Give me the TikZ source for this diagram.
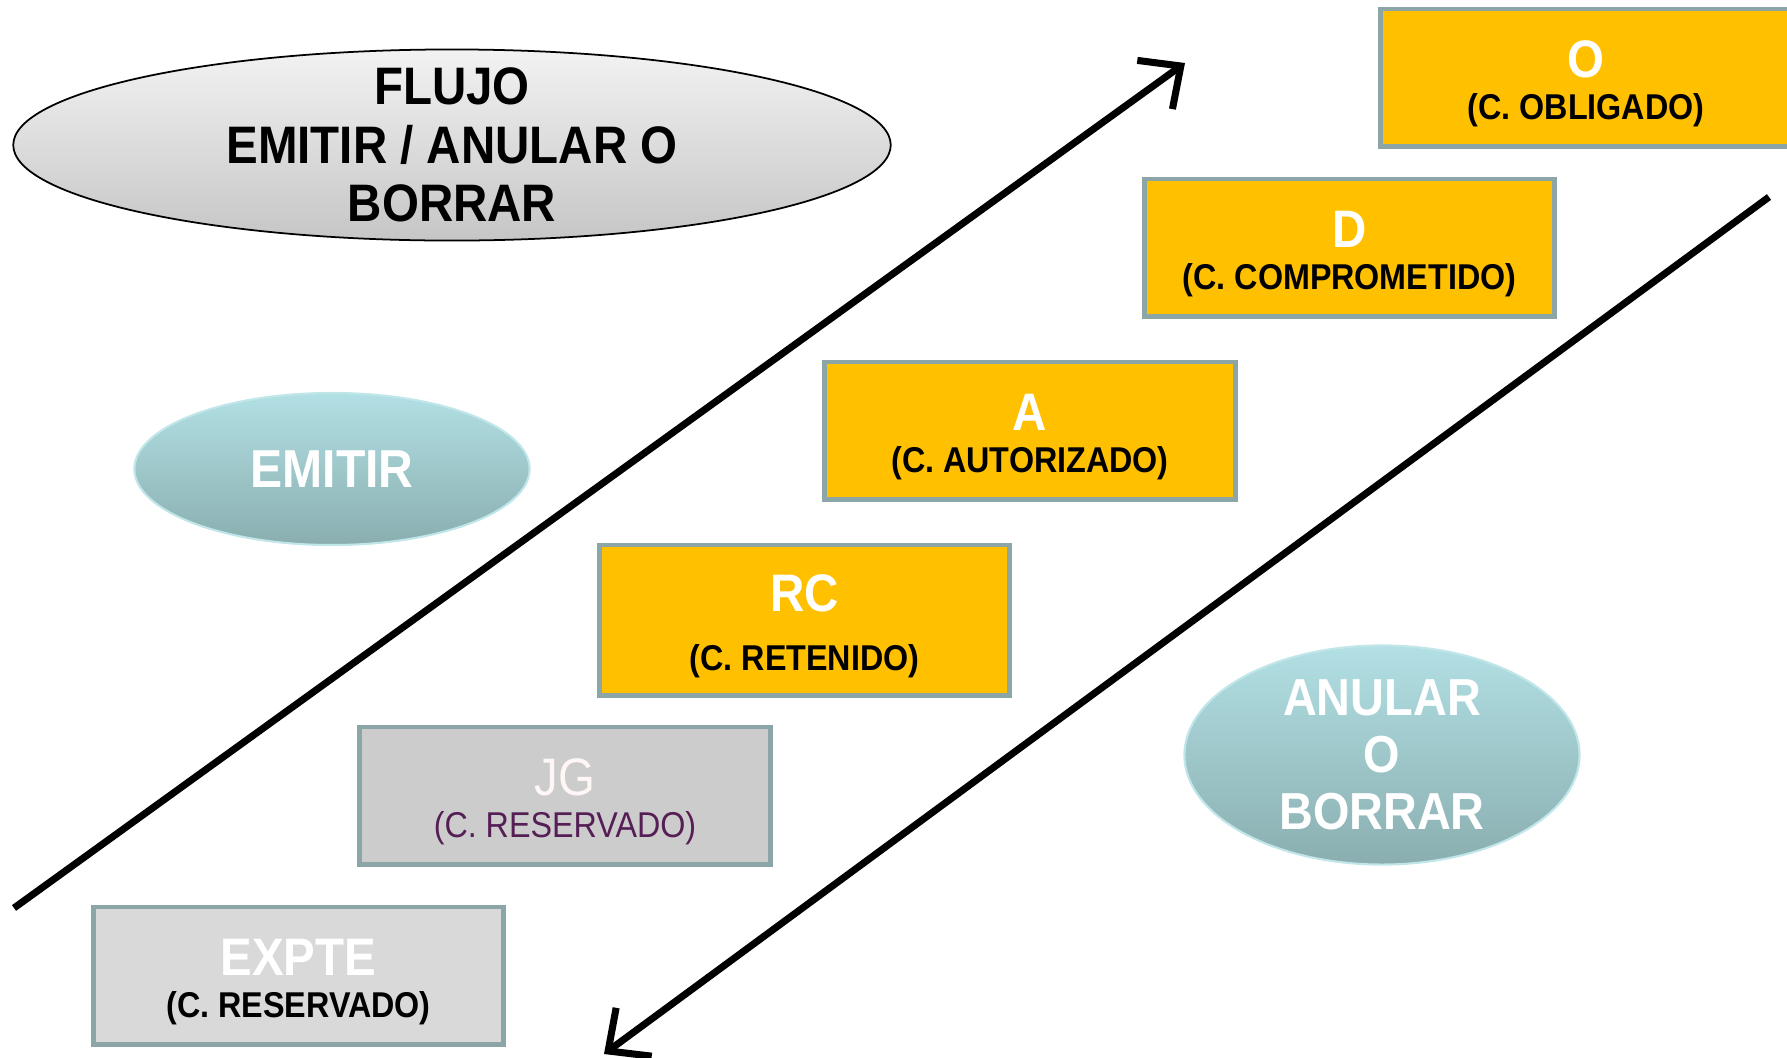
\documentclass[tikz,border=0pt]{standalone}
\usepackage{fontspec}
\setmainfont{Liberation Sans}[FakeStretch=0.9]
\usepackage{tikz}
\usetikzlibrary{shapes.geometric,arrows.meta}
\definecolor{gold1}{RGB}{255,192,0}
\definecolor{frame1}{RGB}{140,166,168}
\definecolor{grey1}{RGB}{204,204,204}
\definecolor{grey2}{RGB}{217,217,217}
\definecolor{teal_top}{RGB}{178,224,228}
\definecolor{teal_bot}{RGB}{138,174,176}
\definecolor{jg_pink}{RGB}{85,30,85}

\newcommand{\biglabel}{\fontsize{15}{16}\selectfont\bfseries\rule{0pt}{14pt}}
\newcommand{\sublabel}{\fontsize{10.2}{12}\selectfont\bfseries}

\tikzset{
 statebox/.style={draw=frame1, line width=1.4pt, fill=gold1, minimum width=4.1cm, minimum height=1.37cm, align=center, inner sep=0pt},
 greybox/.style={statebox, fill=grey1},
 actionoval/.style={ellipse, draw=teal_top!80!white, line width=0.6pt, top color=teal_top, bottom color=teal_bot, minimum width=3.95cm, inner sep=0pt, align=center, text=white},
 flowarrow/.style={line width=2pt, -{Straight Barb[length=3.2mm,width=6mm]}}
}

\begin{document}
\begin{tikzpicture}[x=0.01cm,y=-0.01cm]
 \useasboundingbox (0,0) rectangle (1787,1057);

 % title
 \node[ellipse, draw=black, line width=0.5pt, top color=gray!10, bottom color=gray!45, minimum width=8.77cm, minimum height=1.91cm, inner xsep=0pt, inner ysep=-5pt, align=center,
  font=\fontsize{15}{16.6}\selectfont\bfseries] (title) at (452,145)
  {FLUJO\\EMITIR / ANULAR O\\BORRAR};

 % actions
 \node[actionoval, minimum height=1.52cm, font=\fontsize{15.2}{16}\selectfont\bfseries] (emitir) at (332,469) {EMITIR};
 \node[actionoval, minimum height=2.19cm, font=\fontsize{14.8}{16.2}\selectfont\bfseries] (anular) at (1382,755) {ANULAR\\O\\BORRAR};

 % states
 \node[statebox] (O) at (1586,77.5) {{\biglabel\color{white} O}\\[0pt]{\sublabel (C. OBLIGADO)}};
 \node[statebox] (D) at (1349.5,247.5) {{\biglabel\color{white} D}\\[0pt]{\sublabel (C. COMPROMETIDO)}};
 \node[statebox] (A) at (1030,430.5) {{\biglabel\color{white} A}\\[0pt]{\sublabel (C. AUTORIZADO)}};
 \node[statebox, minimum height=1.5cm] (RC) at (804.5,620) {{\biglabel\color{white} RC}\\[5pt]{\sublabel (C. RETENIDO)}};
 \node[greybox] (JG) at (565,795.5) {{\biglabel\mdseries\color{pink!15!white} JG}\\[0pt]{\sublabel\mdseries\color{jg_pink} (C. RESERVADO)}};
 \node[greybox, fill=grey2] (EXPTE) at (298.5,975.5) {{\biglabel\color{white} EXPTE}\\[0pt]{\sublabel (C. RESERVADO)}};

 % flow arrows
 \coordinate (up_start) at (14,908);
 \coordinate (up_end) at (1185,63);
 \coordinate (down_start) at (1769,197);
 \coordinate (down_end) at (604,1054);
 \draw[flowarrow] (up_start) -- (up_end);
 \draw[flowarrow] (down_start) -- (down_end);
\end{tikzpicture}
\end{document}
